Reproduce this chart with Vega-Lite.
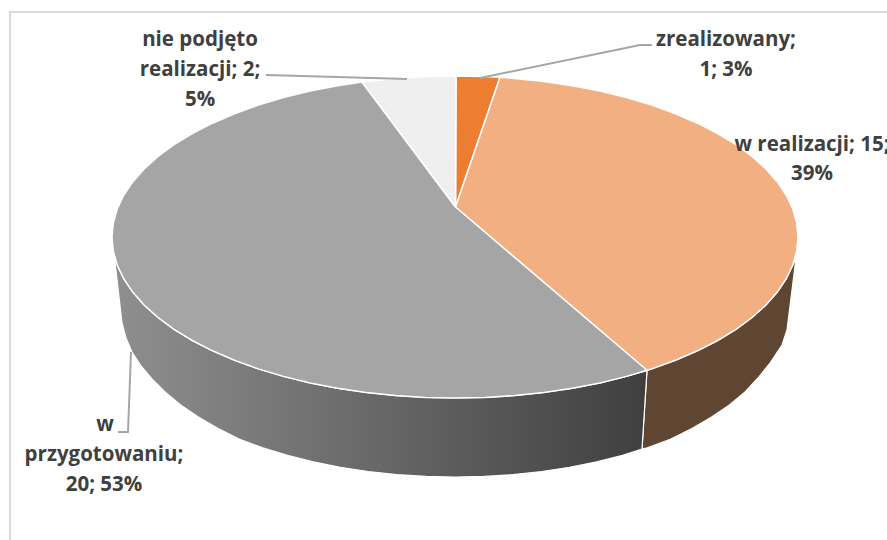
{"$schema":"https://vega.github.io/schema/vega-lite/v6.json","width":887,"height":540,"padding":0,"autosize":{"type":"none"},"background":"white","view":{"stroke":null},
"datasets":{
"frame":[{"order":0,"x":10,"y":540},{"order":1,"x":10,"y":12},{"order":2,"x":887,"y":12}],
"side":[
{"part":"w realizacji","order":0,"x":796,"y":258},{"part":"w realizacji","order":1,"x":792.8,"y":265},{"part":"w realizacji","order":2,"x":786.3,"y":278.7},{"part":"w realizacji","order":3,"x":777.3,"y":292.1},{"part":"w realizacji","order":4,"x":765.9,"y":305},{"part":"w realizacji","order":5,"x":752,"y":317.5},{"part":"w realizacji","order":6,"x":736,"y":329.3},{"part":"w realizacji","order":7,"x":717.7,"y":340.5},{"part":"w realizacji","order":8,"x":697.5,"y":350.8},{"part":"w realizacji","order":9,"x":675.5,"y":360.3},{"part":"w realizacji","order":10,"x":651.7,"y":368.9},{"part":"w realizacji","order":11,"x":647,"y":370.3},{"part":"w realizacji","order":12,"x":642,"y":449},{"part":"w realizacji","order":13,"x":647.2,"y":447.9},{"part":"w realizacji","order":14,"x":670.3,"y":439.3},{"part":"w realizacji","order":15,"x":691.9,"y":428.5},{"part":"w realizacji","order":16,"x":711.6,"y":417},{"part":"w realizacji","order":17,"x":729.4,"y":405},{"part":"w realizacji","order":18,"x":745,"y":392},{"part":"w realizacji","order":19,"x":758,"y":378},{"part":"w realizacji","order":20,"x":770,"y":363},{"part":"w realizacji","order":21,"x":782,"y":345},{"part":"w realizacji","order":22,"x":787,"y":330},{"part":"w realizacji","order":23,"x":796,"y":258}
],
"sideGray":[
{"order":0,"x":647,"y":370.3},{"order":1,"x":626.5,"y":376.4},{"order":2,"x":600,"y":382.9},{"order":3,"x":572.3,"y":388.3},{"order":4,"x":543.8,"y":392.5},{"order":5,"x":514.5,"y":395.6},{"order":6,"x":484.9,"y":397.4},{"order":7,"x":455,"y":398},{"order":8,"x":425.1,"y":397.4},{"order":9,"x":395.5,"y":395.6},{"order":10,"x":366.2,"y":392.5},{"order":11,"x":337.7,"y":388.3},{"order":12,"x":310,"y":382.9},{"order":13,"x":283.5,"y":376.4},{"order":14,"x":258.3,"y":368.9},{"order":15,"x":234.5,"y":360.3},{"order":16,"x":212.5,"y":350.8},{"order":17,"x":192.3,"y":340.5},{"order":18,"x":174,"y":329.3},{"order":19,"x":158,"y":317.5},{"order":20,"x":144.1,"y":305},{"order":21,"x":132.7,"y":292.1},{"order":22,"x":123.7,"y":278.7},{"order":23,"x":117.2,"y":265},{"order":24,"x":114.5,"y":258},{"order":25,"x":122,"y":323},{"order":26,"x":126,"y":338},{"order":27,"x":132,"y":352},{"order":28,"x":141,"y":366},{"order":29,"x":152,"y":379},{"order":30,"x":165,"y":392},{"order":31,"x":180.6,"y":405},{"order":32,"x":198.4,"y":417},{"order":33,"x":218.1,"y":428.5},{"order":34,"x":239.7,"y":439.3},{"order":35,"x":262.8,"y":447.9},{"order":36,"x":287.5,"y":455.4},{"order":37,"x":313.4,"y":461.9},{"order":38,"x":340.4,"y":467.3},{"order":39,"x":368.3,"y":471.5},{"order":40,"x":396.8,"y":474.6},{"order":41,"x":425.8,"y":476.4},{"order":42,"x":455,"y":477},{"order":43,"x":484.2,"y":476.4},{"order":44,"x":513.2,"y":474.6},{"order":45,"x":541.7,"y":471.5},{"order":46,"x":569.6,"y":467.3},{"order":47,"x":596.6,"y":461.9},{"order":48,"x":622.5,"y":455.4},{"order":49,"x":642,"y":449},{"order":50,"x":647,"y":370.3}
],
"top":[
{"part":"zrealizowany","order":0,"x":455.5,"y":207},{"part":"zrealizowany","order":1,"x":456,"y":76},{"part":"zrealizowany","order":2,"x":484.9,"y":76.6},{"part":"zrealizowany","order":3,"x":500,"y":77.3},{"part":"zrealizowany","order":4,"x":455.5,"y":207},
{"part":"w realizacji","order":0,"x":455.5,"y":207},{"part":"w realizacji","order":1,"x":500,"y":77.3},{"part":"w realizacji","order":2,"x":514.5,"y":78.4},{"part":"w realizacji","order":3,"x":543.8,"y":81.5},{"part":"w realizacji","order":4,"x":572.3,"y":85.7},{"part":"w realizacji","order":5,"x":600,"y":91.1},{"part":"w realizacji","order":6,"x":626.5,"y":97.6},{"part":"w realizacji","order":7,"x":651.7,"y":105.1},{"part":"w realizacji","order":8,"x":675.5,"y":113.7},{"part":"w realizacji","order":9,"x":697.5,"y":123.2},{"part":"w realizacji","order":10,"x":717.7,"y":133.5},{"part":"w realizacji","order":11,"x":736,"y":144.7},{"part":"w realizacji","order":12,"x":752,"y":156.5},{"part":"w realizacji","order":13,"x":765.9,"y":169},{"part":"w realizacji","order":14,"x":777.3,"y":181.9},{"part":"w realizacji","order":15,"x":786.3,"y":195.3},{"part":"w realizacji","order":16,"x":792.8,"y":209},{"part":"w realizacji","order":17,"x":796.7,"y":223},{"part":"w realizacji","order":18,"x":798,"y":237},{"part":"w realizacji","order":19,"x":796.7,"y":251},{"part":"w realizacji","order":20,"x":792.8,"y":265},{"part":"w realizacji","order":21,"x":786.3,"y":278.7},{"part":"w realizacji","order":22,"x":777.3,"y":292.1},{"part":"w realizacji","order":23,"x":765.9,"y":305},{"part":"w realizacji","order":24,"x":752,"y":317.5},{"part":"w realizacji","order":25,"x":736,"y":329.3},{"part":"w realizacji","order":26,"x":717.7,"y":340.5},{"part":"w realizacji","order":27,"x":697.5,"y":350.8},{"part":"w realizacji","order":28,"x":675.5,"y":360.3},{"part":"w realizacji","order":29,"x":651.7,"y":368.9},{"part":"w realizacji","order":30,"x":647,"y":370.3},{"part":"w realizacji","order":31,"x":455.5,"y":207},
{"part":"w przygotowaniu","order":0,"x":455.5,"y":207},{"part":"w przygotowaniu","order":1,"x":647,"y":370.3},{"part":"w przygotowaniu","order":2,"x":626.5,"y":376.4},{"part":"w przygotowaniu","order":3,"x":600,"y":382.9},{"part":"w przygotowaniu","order":4,"x":572.3,"y":388.3},{"part":"w przygotowaniu","order":5,"x":543.8,"y":392.5},{"part":"w przygotowaniu","order":6,"x":514.5,"y":395.6},{"part":"w przygotowaniu","order":7,"x":484.9,"y":397.4},{"part":"w przygotowaniu","order":8,"x":455,"y":398},{"part":"w przygotowaniu","order":9,"x":425.1,"y":397.4},{"part":"w przygotowaniu","order":10,"x":395.5,"y":395.6},{"part":"w przygotowaniu","order":11,"x":366.2,"y":392.5},{"part":"w przygotowaniu","order":12,"x":337.7,"y":388.3},{"part":"w przygotowaniu","order":13,"x":310,"y":382.9},{"part":"w przygotowaniu","order":14,"x":283.5,"y":376.4},{"part":"w przygotowaniu","order":15,"x":258.3,"y":368.9},{"part":"w przygotowaniu","order":16,"x":234.5,"y":360.3},{"part":"w przygotowaniu","order":17,"x":212.5,"y":350.8},{"part":"w przygotowaniu","order":18,"x":192.3,"y":340.5},{"part":"w przygotowaniu","order":19,"x":174,"y":329.3},{"part":"w przygotowaniu","order":20,"x":158,"y":317.5},{"part":"w przygotowaniu","order":21,"x":144.1,"y":305},{"part":"w przygotowaniu","order":22,"x":132.7,"y":292.1},{"part":"w przygotowaniu","order":23,"x":123.7,"y":278.7},{"part":"w przygotowaniu","order":24,"x":117.2,"y":265},{"part":"w przygotowaniu","order":25,"x":113.3,"y":251},{"part":"w przygotowaniu","order":26,"x":112,"y":237},{"part":"w przygotowaniu","order":27,"x":113.3,"y":223},{"part":"w przygotowaniu","order":28,"x":117.2,"y":209},{"part":"w przygotowaniu","order":29,"x":123.7,"y":195.3},{"part":"w przygotowaniu","order":30,"x":132.7,"y":181.9},{"part":"w przygotowaniu","order":31,"x":144.1,"y":169},{"part":"w przygotowaniu","order":32,"x":158,"y":156.5},{"part":"w przygotowaniu","order":33,"x":174,"y":144.7},{"part":"w przygotowaniu","order":34,"x":192.3,"y":133.5},{"part":"w przygotowaniu","order":35,"x":212.5,"y":123.2},{"part":"w przygotowaniu","order":36,"x":234.5,"y":113.7},{"part":"w przygotowaniu","order":37,"x":258.3,"y":105.1},{"part":"w przygotowaniu","order":38,"x":283.5,"y":97.6},{"part":"w przygotowaniu","order":39,"x":310,"y":91.1},{"part":"w przygotowaniu","order":40,"x":337.7,"y":85.7},{"part":"w przygotowaniu","order":41,"x":362,"y":82},{"part":"w przygotowaniu","order":42,"x":455.5,"y":207},
{"part":"nie podjęto realizacji","order":0,"x":455.5,"y":207},{"part":"nie podjęto realizacji","order":1,"x":362,"y":82},{"part":"nie podjęto realizacji","order":2,"x":395.5,"y":78.4},{"part":"nie podjęto realizacji","order":3,"x":425.1,"y":76.6},{"part":"nie podjęto realizacji","order":4,"x":456,"y":76},{"part":"nie podjęto realizacji","order":5,"x":455.5,"y":207}
],
"leaders":[
{"part":"nie podjęto realizacji","order":0,"x":266,"y":75},{"part":"nie podjęto realizacji","order":1,"x":407,"y":79},
{"part":"zrealizowany","order":0,"x":480,"y":78},{"part":"zrealizowany","order":1,"x":640,"y":45},{"part":"zrealizowany","order":2,"x":652,"y":45},
{"part":"w przygotowaniu","order":0,"x":131,"y":352},{"part":"w przygotowaniu","order":1,"x":128,"y":432},{"part":"w przygotowaniu","order":2,"x":118,"y":432}
],
"labels":[
{"text":"nie podjęto","x":200,"y":40},{"text":"realizacji; 2;","x":200,"y":70},{"text":"5%","x":200,"y":100},
{"text":"zrealizowany;","x":726,"y":40},{"text":"1; 3%","x":726,"y":70},
{"text":"w realizacji; 15;","x":812,"y":145},{"text":"39%","x":812,"y":174},
{"text":"w","x":105,"y":425},{"text":"przygotowaniu;","x":104,"y":455},{"text":"20; 53%","x":104,"y":485}
]},
"encoding":{
"x":{"field":"x","type":"quantitative","scale":{"domain":[0,887],"nice":false,"zero":false},"axis":null},
"y":{"field":"y","type":"quantitative","scale":{"domain":[540,0],"nice":false,"zero":false},"axis":null}},
"layer":[
{"data":{"name":"frame"},"mark":{"type":"line","stroke":"#D9D9D9","strokeWidth":2,"clip":true},"encoding":{"order":{"field":"order","type":"quantitative"}}},
{"data":{"name":"side"},"mark":{"type":"line","fill":"#5F4632","stroke":"white","strokeWidth":1.2},"encoding":{"order":{"field":"order","type":"quantitative"}}},
{"data":{"name":"sideGray"},"mark":{"type":"line","stroke":"white","strokeWidth":1.2,"fill":{"gradient":"linear","x1":0,"y1":0,"x2":1,"y2":0,"stops":[{"offset":0,"color":"#8F8F8F"},{"offset":1,"color":"#3F3F3F"}]}},"encoding":{"order":{"field":"order","type":"quantitative"}}},
{"data":{"name":"top"},"mark":{"type":"line","stroke":"white","strokeWidth":1.5},"encoding":{"detail":{"field":"part"},"order":{"field":"order","type":"quantitative"},
"fill":{"field":"part","type":"nominal","legend":null,"scale":{"domain":["zrealizowany","w realizacji","w przygotowaniu","nie podjęto realizacji"],"range":["#ED7D31","#F2AF82","#A5A5A5","#EFEFEF"]}}}},
{"data":{"name":"leaders"},"mark":{"type":"line","stroke":"#A6A6A6","strokeWidth":2},"encoding":{"detail":{"field":"part"},"order":{"field":"order","type":"quantitative"}}},
{"data":{"name":"labels"},"mark":{"type":"text","font":"Open Sans","fontWeight":"bold","fontSize":20.5,"color":"#404040","align":"center","baseline":"middle"},"encoding":{"text":{"field":"text"}}}
]}
